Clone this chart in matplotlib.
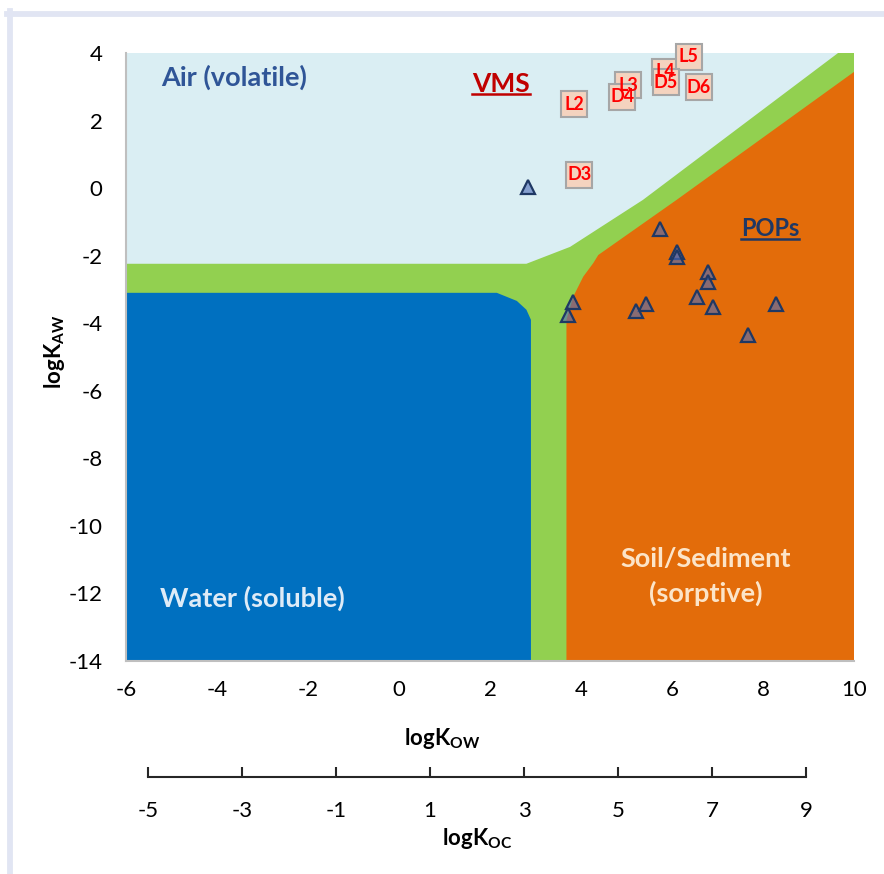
import matplotlib
matplotlib.use('Agg')
import matplotlib.pyplot as plt
from matplotlib.lines import Line2D

plt.rcParams['font.family'] = ['Lato', 'DejaVu Sans']
plt.rcParams['mathtext.fontset'] = 'custom'
plt.rcParams['mathtext.rm'] = 'Lato'
plt.rcParams['mathtext.bf'] = 'Lato:bold'
plt.rcParams['axes.unicode_minus'] = False

# region edges (logKow, logKaw)
air_edge_x = [-6, 2.8, 3.76, 5.36, 9.65, 10]
air_edge_y = [-2.24, -2.24, -1.74, -0.35, 4, 4]

water_x = [-6, 2.15, 2.59, 2.80, 2.9, 2.9, -6]
water_y = [-3.1, -3.1, -3.34, -3.6, -3.9, -14, -14]

soil_x = [3.68, 3.68, 3.83, 4.05, 4.27, 4.38, 6.10, 10, 10]
soil_y = [-14, -3.9, -3.21, -2.62, -2.22, -1.98, -0.35, 3.44, -14]

# POPs (triangles)
pop_kow = [2.84, 5.74, 6.12, 6.12, 6.80, 6.80, 6.54, 6.91, 8.28, 7.66, 5.42, 5.21, 3.82, 3.72]
pop_kaw = [0.04, -1.22, -1.90, -2.03, -2.47, -2.77, -3.23, -3.52, -3.44, -4.36, -3.44, -3.65, -3.36, -3.75]

# VMS (labelled boxes)
vms_names = ['L2', 'L3', 'L4', 'L5', 'D3', 'D4', 'D5', 'D6']
vms_kow = [3.85, 5.04, 5.85, 6.37, 3.96, 4.91, 5.86, 6.59]
vms_kaw = [2.48, 3.05, 3.45, 3.89, 0.39, 2.71, 3.13, 2.98]

kow_ticks = [-6, -4, -2, 0, 2, 4, 6, 8, 10]
kaw_ticks = [4, 2, 0, -2, -4, -6, -8, -10, -12, -14]
koc_ticks = [-5, -3, -1, 1, 3, 5, 7, 9]

fig = plt.figure(figsize=(8.84, 8.74), dpi=100)
ax = fig.add_axes([126/884, 1-661/874, 728/884, 608/874])

ax.set_facecolor('#DAEEF3')
green_x = air_edge_x + [10, -6]
green_y = air_edge_y + [-14, -14]
ax.fill(green_x, green_y, color='#92D050', lw=0, zorder=1)
ax.fill(water_x, water_y, color='#0070C0', lw=0, zorder=1.1)
ax.fill(soil_x, soil_y, color='#E36C0A', lw=0, zorder=1.1)

ax.plot(pop_kow, pop_kaw, ls='none', marker='^', markersize=10,
        markerfacecolor=(0.30, 0.42, 0.72, 0.6), markeredgecolor='#1F3864',
        markeredgewidth=1.6, zorder=3)

for i in range(len(vms_names)):
    ax.plot(vms_kow[i], vms_kaw[i], ls='none', marker='s', markersize=18.5,
            markerfacecolor='#F4D3BF', markeredgecolor='#A6A6A6',
            markeredgewidth=1.5, clip_on=False, zorder=4 + i)
    ax.text(vms_kow[i], vms_kaw[i], vms_names[i], color='#FF0000', fontsize=13,
            fontweight='bold', ha='center', va='center', zorder=20)

ax.set_xlim(-6, 10)
ax.set_ylim(-14, 4)
ax.set_xticks(kow_ticks)
ax.set_yticks(kaw_ticks)
ax.tick_params(axis='x', length=0, pad=14, labelsize=16)
ax.tick_params(axis='y', length=0, pad=17, labelsize=16)
for s in ['top', 'right']:
    ax.spines[s].set_visible(False)
for s in ['left', 'bottom']:
    ax.spines[s].set_color('#BFBFBF')
    ax.spines[s].set_linewidth(1.5)

ax.set_xlabel(r'logK$_{\mathbf{OW}}$', fontsize=16, fontweight='bold')
ax.xaxis.set_label_coords(0.5, 1-726/874, transform=fig.transFigure)
ax.set_ylabel(r'logK$_{\mathbf{AW}}$', fontsize=16, fontweight='bold')
ax.yaxis.set_label_coords(67/884, 1-352/874, transform=fig.transFigure)

ax.text(-3.63, 3.02, 'Air (volatile)', color='#2F5597', fontsize=19.5,
        fontweight='bold', ha='center', va='baseline', zorder=5)
ax.text(-3.22, -12.40, 'Water (soluble)', color='#DEEBF7', fontsize=19.5,
        fontweight='bold', ha='center', va='baseline', zorder=5)
ax.text(6.75, -11.21, 'Soil/Sediment', color='#FCE4C8', fontsize=19.5,
        fontweight='bold', ha='center', va='baseline', zorder=5)
ax.text(6.75, -12.24, '(sorptive)', color='#FCE4C8', fontsize=19.5,
        fontweight='bold', ha='center', va='baseline', zorder=5)
vms_t = ax.text(2.25, 2.85, 'VMS', color='#C00000', fontsize=19,
                fontweight='bold', ha='center', va='baseline', zorder=5)
pops_t = ax.text(8.15, -1.43, 'POPs', color='#1F3864', fontsize=17,
                 fontweight='bold', ha='center', va='baseline', zorder=5)

# second scale: logKoc
ax2 = fig.add_axes([148/884, 1-777/874, 658/884, 0.01])
ax2.set_xlim(-5, 9)
ax2.set_xticks(koc_ticks)
ax2.set_yticks([])
ax2.patch.set_visible(False)
for s in ['top', 'right', 'left']:
    ax2.spines[s].set_visible(False)
ax2.spines['bottom'].set_linewidth(1.5)
ax2.spines['bottom'].set_color('#262626')
ax2.tick_params(axis='x', direction='in', length=7, width=1.5, color='#262626',
                pad=17, labelsize=16)
ax2.set_xlabel(r'logK$_{\mathbf{OC}}$', fontsize=16, fontweight='bold')
ax2.xaxis.set_label_coords(477/884, 1-826/874, transform=fig.transFigure)

# underlines under VMS / POPs
fig.canvas.draw()
r = fig.canvas.get_renderer()
inv = ax.transAxes.inverted()
for t, c in [(vms_t, '#C00000'), (pops_t, '#1F3864')]:
    bb = t.get_window_extent(r)
    (x0, y0), (x1, _) = inv.transform([(bb.x0, bb.y0 + 1.5), (bb.x1, bb.y0)])
    ax.plot([x0, x1], [y0, y0], color=c, lw=1.8, transform=ax.transAxes,
            clip_on=False, zorder=5)

# light frame on the top and left edges
fig.add_artist(Line2D([7/884, 1], [1-13.5/874, 1-13.5/874], transform=fig.transFigure,
                      color='#E1E5F3', lw=4.2))
fig.add_artist(Line2D([10/884, 10/884], [0, 1-11/874], transform=fig.transFigure,
                      color='#E1E5F3', lw=4.2))

fig.savefig('out.png', dpi=100)
